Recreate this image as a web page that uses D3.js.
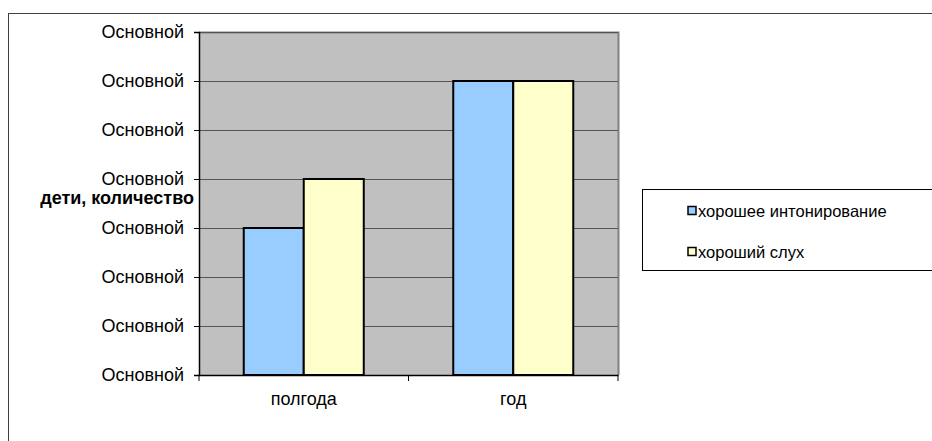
<!DOCTYPE html>
<html>
<head>
<meta charset="utf-8">
<script src="https://cdn.jsdelivr.net/npm/d3@7/dist/d3.min.js"></script>
<style>
  html, body { margin: 0; padding: 0; background: #fff; }
  svg { display: block; font-family: "Liberation Sans", Arial, sans-serif; }
</style>
</head>
<body>
<svg id="chart" width="932" height="441"></svg>
<script>
// Data
const categories = ["полгода", "год"];
const seriesNames = ["хорошее интонирование", "хороший слух"];
const seriesColors = ["#99ccff", "#ffffcc"];
const intonation = [3, 6];
const hearing = [4, 6];
const yTicks = [0, 1, 2, 3, 4, 5, 6, 7];
const yTickLabel = "Основной";
const yTitle = "дети, количество";

const seriesValues = [intonation, hearing];

const svg = d3.select("#chart");

// Outer chart frame
svg.append("rect")
  .attr("x", 8.5).attr("y", 13.5)
  .attr("width", 940).attr("height", 440)
  .attr("fill", "#fff").attr("stroke", "#404040").attr("stroke-width", 1);

const plot = { left: 199, right: 618, top: 32, bottom: 375 };

const x = d3.scaleBand().domain(categories).range([plot.left, plot.right]);
const xInner = d3.scaleBand().domain(d3.range(seriesNames.length))
  .range([0, 120]);
const y = d3.scaleLinear().domain([0, 7]).range([plot.bottom, plot.top]);

// Plot area background
svg.append("rect")
  .attr("x", plot.left).attr("y", plot.top)
  .attr("width", plot.right - plot.left).attr("height", plot.bottom - plot.top)
  .attr("fill", "#c0c0c0");

// Plot area border (right / top sides)
svg.append("path")
  .attr("d", `M${plot.left},${plot.top + 0.5}H${plot.right + 0.5}V${plot.bottom}`)
  .attr("fill", "none").attr("stroke", "#808080").attr("stroke-width", 2);

// Gridlines
svg.append("g")
  .selectAll("line")
  .data(yTicks.filter(t => t > 0))
  .join("line")
  .attr("x1", plot.left).attr("x2", plot.right)
  .attr("y1", d => Math.round(y(d)) + 0.5).attr("y2", d => Math.round(y(d)) + 0.5)
  .attr("stroke", "#555").attr("stroke-width", 1.2);

// Bars
const groups = svg.append("g")
  .selectAll("g")
  .data(categories)
  .join("g")
  .attr("transform", d => `translate(${x(d) + (x.bandwidth() - 120) / 2},0)`);

groups.selectAll("rect")
  .data((c, i) => seriesValues.map((vals, s) => ({ s, v: vals[i] })))
  .join("rect")
  .attr("x", d => xInner(d.s))
  .attr("y", d => y(d.v))
  .attr("width", xInner.bandwidth())
  .attr("height", d => y(0) - y(d.v))
  .attr("fill", d => seriesColors[d.s])
  .attr("stroke", "#000").attr("stroke-width", 2);

// Y axis
const yAxis = svg.append("g")
  .attr("transform", `translate(${plot.left},0)`)
  .call(d3.axisLeft(y).tickValues(yTicks).tickFormat(() => yTickLabel)
    .tickSize(5).tickPadding(10));
yAxis.select(".domain").attr("stroke", "#000").attr("stroke-width", 1.5);
yAxis.selectAll(".tick line").attr("stroke", "#000");
yAxis.selectAll(".tick text")
  .attr("font-size", 18).attr("fill", "#000")
  .attr("font-family", "Liberation Sans, Arial, sans-serif");

// X axis
const xAxis = svg.append("g")
  .attr("transform", `translate(0,${plot.bottom})`)
  .call(d3.axisBottom(x).tickValues([]).tickSize(0));
xAxis.select(".domain").attr("stroke", "#000").attr("stroke-width", 1.5);

// Category boundary ticks
svg.append("g")
  .selectAll("line")
  .data([plot.left, x(categories[1]), plot.right])
  .join("line")
  .attr("x1", d => d).attr("x2", d => d)
  .attr("y1", plot.bottom).attr("y2", plot.bottom + 6)
  .attr("stroke", "#000");

// Category labels
svg.append("g")
  .selectAll("text")
  .data(categories)
  .join("text")
  .attr("x", d => x(d) + x.bandwidth() / 2)
  .attr("y", plot.bottom + 30)
  .attr("text-anchor", "middle")
  .attr("font-size", 18)
  .text(d => d);

// Y axis title
svg.append("text")
  .attr("x", 194).attr("y", 204)
  .attr("text-anchor", "end")
  .attr("font-size", 18).attr("font-weight", "bold")
  .text(yTitle);

// Legend
const legend = svg.append("g");
legend.append("rect")
  .attr("x", 642.5).attr("y", 189.5)
  .attr("width", 300).attr("height", 81)
  .attr("fill", "#fff").attr("stroke", "#000").attr("stroke-width", 1);

const items = legend.selectAll("g")
  .data(seriesNames)
  .join("g")
  .attr("transform", (d, i) => `translate(688,${211 + i * 41})`);
items.append("rect")
  .attr("x", 0).attr("y", -4.5)
  .attr("width", 8).attr("height", 8)
  .attr("fill", (d, i) => seriesColors[i])
  .attr("stroke", "#000").attr("stroke-width", 1.5);
items.append("text")
  .attr("x", 10).attr("y", 6)
  .attr("font-size", 16.5)
  .text(d => d);
</script>
</body>
</html>
